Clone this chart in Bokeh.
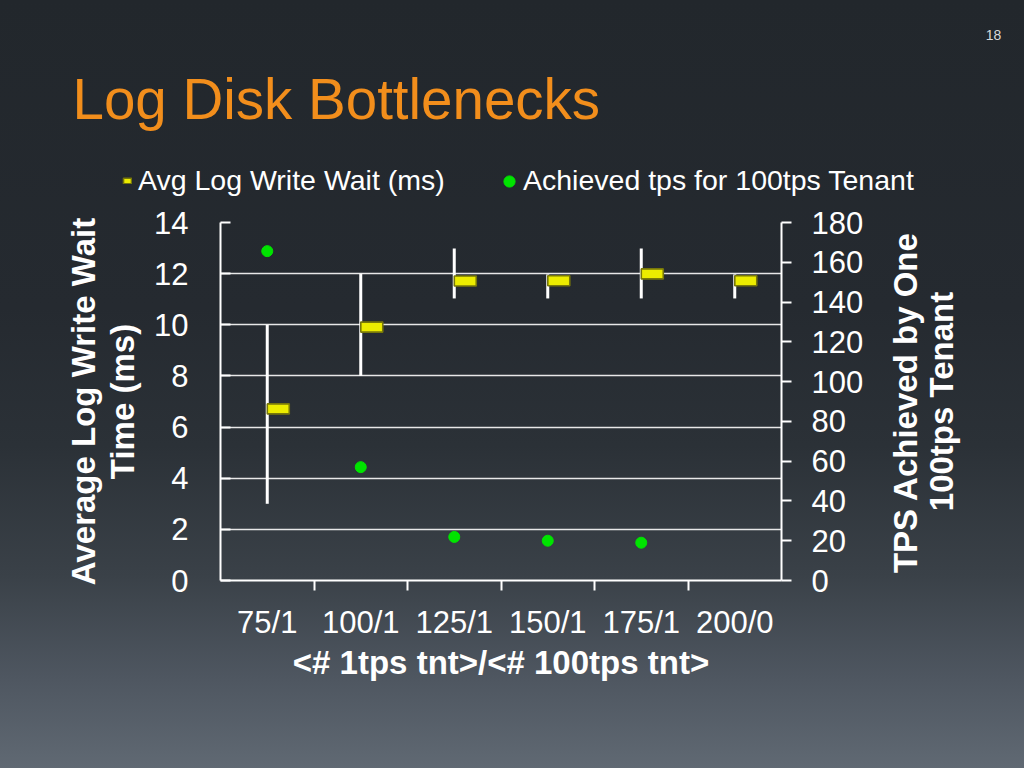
import math
import numpy as np
from bokeh.plotting import figure
from bokeh.layouts import column, row
from bokeh.models import (FactorRange, Range1d, LinearAxis, CategoricalAxis, FixedTicker, Label,
                          Legend, LegendItem, ColumnDataSource, GlobalInlineStyleSheet)
from bokeh.transform import dodge
from bokeh.embed import file_html
from bokeh.resources import INLINE

# ---------------- data ----------------
categories = ["75/1", "100/1", "125/1", "150/1", "175/1", "200/0"]
avg_wait_ms = [6.71, 9.91, 11.71, 11.72, 11.99, 11.72]
wait_low = [3.0, 8.0, 11.03, 11.03, 11.03, 11.03]
wait_high = [10.0, 12.0, 12.98, 11.97, 12.98, 11.97]
achieved_tps = [165.6, 57.0, 21.9, 20.0, 19.0, float("nan")]
left_ticks = [0, 2, 4, 6, 8, 10, 12, 14]
right_ticks = [0, 20, 40, 60, 80, 100, 120, 140, 160, 180]

title_text = "Log Disk Bottlenecks"
left_title = "Average Log Write Wait\nTime (ms)"
right_title = ["TPS Achieved by One", "100tps Tenant"]
x_title = "<# 1tps tnt>/<# 100tps tnt>"
series_names = ["Avg Log Write Wait (ms)", "Achieved tps for 100tps Tenant"]
page_number = "18"

FONT = "Liberation Sans"
WHITE = "#ffffff"
GRID = "#e8e8e8"
ORANGE = "#f28e1c"
YELLOW = "#ecec00"
OLIVE = "#77770a"
GREEN = "#00e400"

W = 1008
HEAD_H = 200
BODY_H = 752 - HEAD_H
CHART_W = 880
STRIP_W = W - CHART_W
TOP_B, BOT_B = 22, 172


def no_align(fig):
    if "frame_align" in fig.properties():
        fig.frame_align = False


def plain(fig):
    fig.outline_line_color = None
    fig.background_fill_color = None
    fig.border_fill_color = None


src = ColumnDataSource(dict(cat=categories, wait=avg_wait_ms, lo=wait_low, hi=wait_high,
                            tps=np.array(achieved_tps, dtype=float)))

# ---------------- heading strip: title, page number, legend ----------------
head = figure(width=W, height=HEAD_H, x_range=Range1d(0, 1), y_range=Range1d(0, 1),
              output_backend="svg", toolbar_location=None, title_location=None,
              x_axis_location=None, y_axis_location=None,
              min_border_left=0, min_border_right=0, min_border_top=0, min_border_bottom=0)
plain(head)
no_align(head)
head.grid.visible = False
head.stylesheets = [GlobalInlineStyleSheet(css=(
    "html{min-height:100%;background:linear-gradient(to bottom,"
    "#22272c 0%,#252a30 40%,#2b3137 58%,#3a4148 75%,#4e5660 88%,#606973 100%);}"
))]

head.add_layout(Label(text=title_text, x=72, y=HEAD_H - 98.6, x_units="screen", y_units="screen",
                      text_align="left", text_baseline="middle", text_font=FONT,
                      text_font_size="56.5px", text_color=ORANGE))
head.add_layout(Label(text=page_number, x=993, y=HEAD_H - 34, x_units="screen", y_units="screen",
                      text_align="center", text_baseline="middle", text_font=FONT,
                      text_font_size="14px", text_color="#d8d8d8"))

# legend swatches styled like the chart's marks (no drawable position of their own)
key_bar = head.rect(x=[float("nan")], y=[float("nan")], width=1, height=1,
                    fill_color=YELLOW, line_color=OLIVE, line_width=1.6)
key_dot = head.scatter(x=[float("nan")], y=[float("nan")], size=11,
                       fill_color=GREEN, line_color=GREEN, marker="circle")
common = dict(orientation="horizontal", padding=0, margin=0, spacing=0,
              background_fill_alpha=0, border_line_color=None,
              label_text_color=WHITE, label_text_font=FONT, label_text_font_size="28.5px",
              label_height=30)
leg1 = Legend(items=[LegendItem(label=series_names[0], renderers=[key_bar])],
              location=(122, HEAD_H - 197), glyph_width=10, glyph_height=7, label_standoff=6, **common)
leg2 = Legend(items=[LegendItem(label=series_names[1], renderers=[key_dot])],
              location=(495, HEAD_H - 197), glyph_width=28, glyph_height=28, label_standoff=0, **common)
head.add_layout(leg1)
head.add_layout(leg2)

# ---------------- chart ----------------
chart = figure(width=CHART_W, height=BODY_H,
               x_range=FactorRange(*categories), y_range=Range1d(0, 14),
               output_backend="svg", toolbar_location=None, title_location=None,
               x_axis_location=None, y_axis_location="left",
               min_border_left=220, min_border_right=CHART_W - 781,
               min_border_top=TOP_B, min_border_bottom=BOT_B)
chart.extra_y_ranges = {"tps": Range1d(0, 180)}
edge_names = [f"edge{i}" for i in range(len(categories) + 1)]
chart.extra_x_ranges = {"edges": FactorRange(*edge_names, range_padding=-1.0 / len(edge_names))}
plain(chart)

ly = chart.yaxis[0]
ly.ticker = FixedTicker(ticks=left_ticks)
ly.axis_line_color = WHITE
ly.axis_line_width = 2
ly.major_tick_in = 10
ly.major_tick_out = 0
ly.major_tick_line_color = WHITE
ly.major_tick_line_width = 2
ly.minor_tick_line_color = None
ly.major_label_standoff = 32
ly.major_label_text_font = FONT
ly.major_label_text_font_size = "31px"
ly.major_label_text_color = WHITE
ly.axis_label = left_title
ly.axis_label_standoff = 10
ly.axis_label_text_font = FONT
ly.axis_label_text_font_size = "33px"
ly.axis_label_text_font_style = "bold"
ly.axis_label_text_color = WHITE
ly.axis_label_text_line_height = 1.06

chart.ygrid.ticker = FixedTicker(ticks=left_ticks)
chart.ygrid.grid_line_color = GRID
chart.ygrid.grid_line_width = 1.6
chart.xgrid.visible = False

ra = LinearAxis(y_range_name="tps", ticker=FixedTicker(ticks=right_ticks),
                axis_line_color=WHITE, axis_line_width=2,
                major_tick_in=0, major_tick_out=10, major_tick_line_color=WHITE,
                major_tick_line_width=2, minor_tick_line_color=None,
                major_label_standoff=20, major_label_text_font=FONT,
                major_label_text_font_size="31px", major_label_text_color=WHITE)
chart.add_layout(ra, "right")

ba = CategoricalAxis(x_range_name="edges",
                     axis_line_color=WHITE, axis_line_width=2,
                     major_tick_in=0, major_tick_out=10, major_tick_line_color=WHITE,
                     major_tick_line_width=2, minor_tick_line_color=None,
                     major_label_text_font_size="0px", major_label_text_alpha=0,
                     major_label_standoff=0)
chart.add_layout(ba, "below")
ca = CategoricalAxis(axis_line_color=None, major_tick_line_color=None,
                     major_tick_in=0, major_tick_out=0, minor_tick_line_color=None,
                     major_label_standoff=14, major_label_text_font=FONT,
                     major_label_text_font_size="31px", major_label_text_color=WHITE,
                     axis_label=x_title, axis_label_standoff=1, axis_label_text_font=FONT,
                     axis_label_text_font_size="33px", axis_label_text_font_style="bold",
                     axis_label_text_color=WHITE)
chart.add_layout(ca, "below")

chart.segment(x0="cat", y0="lo", x1="cat", y1="hi", source=src, line_color=WHITE, line_width=3)
chart.rect(x=dodge("cat", 0.118, range=chart.x_range), y="wait", width=0.235, height=10,
           height_units="screen", source=src, fill_color=YELLOW, line_color=OLIVE, line_width=1.6)
chart.scatter(x="cat", y="tps", y_range_name="tps", source=src, size=11,
              fill_color=GREEN, line_color=GREEN, marker="circle")

# ---------------- right-hand title strip (secondary axis title, read bottom to top) ----------------
strip = figure(width=STRIP_W, height=BODY_H, x_range=Range1d(0, 1), y_range=Range1d(0, 1),
               output_backend="svg", toolbar_location=None, title_location=None,
               x_axis_location=None, y_axis_location=None,
               min_border_left=0, min_border_right=0, min_border_top=TOP_B, min_border_bottom=BOT_B)
plain(strip)
no_align(strip)
strip.grid.visible = False
for txt, cx, cy in [(right_title[0], 905, 402), (right_title[1], 941, 401)]:
    strip.add_layout(Label(text=txt, x=cx - CHART_W, y=580 - cy, x_units="screen", y_units="screen",
                           angle=math.pi / 2, text_align="center", text_baseline="middle",
                           text_font=FONT, text_font_size="33px", text_font_style="bold",
                           text_color=WHITE))

p = column(head, row(chart, strip, spacing=0), spacing=0)

open("out.html", "w").write(file_html(p, INLINE))
